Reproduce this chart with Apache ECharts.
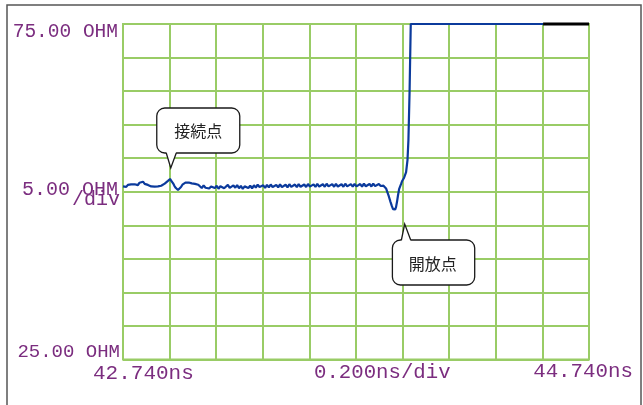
<!DOCTYPE html>
<html>
<head>
<meta charset="utf-8">
<script src="https://cdn.jsdelivr.net/npm/echarts@6/dist/echarts.min.js"></script>
<style>
  html, body { margin: 0; padding: 0; background: #ffffff; }
  #chart { width: 643px; height: 405px; }
</style>
</head>
<body>
<div id="chart"></div>
<script>
// TDR impedance trace: time window 42.740 ns .. 44.740 ns, 25 .. 75 ohm
const START_NS = 42.740;
const END_NS = 44.740;
const NS_PER_DIV = 0.2;
const OHM_MIN = 25;
const OHM_MAX = 75;
const OHM_PER_DIV = 5;

// sample times (ns)
const timeNs = [
  42.740, 42.747, 42.754, 42.761, 42.768, 42.775, 42.783, 42.790, 42.797, 42.804,
  42.811, 42.818, 42.826, 42.833, 42.840, 42.847, 42.854, 42.861, 42.869, 42.876,
  42.883, 42.890, 42.897, 42.904, 42.912, 42.919, 42.926, 42.933, 42.942, 42.948,
  42.955, 42.961, 42.967, 42.972, 42.976, 42.982, 42.989, 42.995, 43.002, 43.008,
  43.015, 43.022, 43.028, 43.035, 43.042, 43.049, 43.056, 43.063, 43.070,
  43.078, 43.086, 43.094, 43.102, 43.110, 43.118, 43.126, 43.134, 43.142, 43.150,
  43.158, 43.166, 43.174, 43.182, 43.190, 43.198, 43.206, 43.214, 43.222, 43.230,
  43.238, 43.246, 43.254, 43.262, 43.270, 43.278, 43.286, 43.294, 43.302, 43.310,
  43.318, 43.326, 43.334, 43.342, 43.350, 43.358, 43.366, 43.374, 43.382, 43.390,
  43.398, 43.406, 43.414, 43.422, 43.430, 43.438, 43.446, 43.454, 43.462, 43.470,
  43.478, 43.486, 43.494, 43.502, 43.510, 43.518, 43.526, 43.534, 43.542, 43.550,
  43.558, 43.566, 43.574, 43.582, 43.590, 43.598, 43.606, 43.614, 43.622, 43.630,
  43.638, 43.646, 43.654, 43.662, 43.670, 43.678, 43.686, 43.694, 43.702, 43.710,
  43.718, 43.726, 43.734, 43.742, 43.750, 43.758, 43.766, 43.774, 43.782, 43.790,
  43.798, 43.806, 43.814, 43.822, 43.830, 43.838, 43.846, 43.852,
  43.858, 43.864, 43.869, 43.875, 43.881, 43.888, 43.894, 43.899, 43.903, 43.908,
  43.912, 43.916, 43.920, 43.925, 43.929, 43.934, 43.938, 43.946, 43.955, 43.961,
  43.965, 43.970, 43.975, 44.543
];

// measured impedance (ohm)
const impedance = [
  50.80, 51.05, 50.72, 51.02, 50.78, 51.10, 50.82, 51.12, 51.20, 50.98,
  51.35, 51.22, 51.50, 51.18, 51.38, 51.02, 51.08, 50.80, 50.92, 50.76,
  50.98, 50.80, 51.08, 50.90, 51.18, 51.22, 51.50, 51.62, 51.90, 51.60,
  51.25, 50.85, 50.55, 50.35, 50.26, 50.45, 50.70, 51.05, 51.12, 51.35,
  51.22, 51.38, 51.10, 51.25, 51.02, 51.18, 50.95, 51.05, 50.80,
  50.55, 50.95, 50.60, 50.88, 50.48, 50.80, 51.00, 50.55, 50.90, 50.45,
  50.82, 50.98, 50.52, 50.78, 51.02, 50.58, 50.50, 50.94, 50.60, 50.98,
  50.52, 50.86, 50.44, 50.80, 51.00, 50.56, 50.90, 50.50, 50.96, 50.62,
  51.05, 50.70, 50.52, 50.96, 50.58, 51.02, 50.64, 51.08, 50.70, 50.56,
  51.00, 50.66, 51.10, 50.68, 50.60, 51.04, 50.66, 51.12, 50.72, 50.60,
  51.08, 50.68, 51.14, 50.74, 50.62, 51.08, 50.70, 51.16, 50.76, 50.64,
  51.10, 50.72, 51.18, 50.78, 50.66, 51.12, 50.74, 51.20, 50.80, 50.68,
  51.14, 50.74, 51.18, 50.78, 50.66, 51.12, 50.74, 51.20, 50.80, 50.68,
  51.14, 50.75, 51.18, 50.80, 50.70, 51.15, 50.76, 51.20, 50.82, 50.70,
  51.16, 50.78, 51.22, 50.84, 50.72, 51.16, 50.86, 51.10,
  50.90, 50.70, 50.50, 49.90, 49.30, 48.50, 47.85, 47.40, 47.18, 47.35,
  47.75, 48.50, 49.40, 50.40, 50.60, 51.20, 51.60, 52.05, 52.94, 54.73,
  57.70, 65.00, 75.00, 75.00
];

// over-range segment at the top of the screen
const overrangeTimeNs = [44.543, 44.740];
const overrangeOhm = [75.00, 75.00];

// scale annotations
const yScaleLabels = ['75.00 OHM', '5.00 OHM', '/div', '25.00 OHM'];
const xScaleLabels = ['42.740ns', '0.200ns/div', '44.740ns'];

// callouts: text and the trace point each one refers to
const calloutTexts = ['接続点', '開放点'];
const calloutTimeNs = [42.942, 43.946];
const calloutOhm = [51.90, 52.05];

const GRID_GREEN = '#99cc66';
const TRACE_BLUE = '#0b3a9c';
const LABEL_PURPLE = '#7b2d7f';
const MONO = '"Liberation Mono", "Courier New", monospace';
const CJK = '"Noto Sans CJK JP", "Noto Sans CJK SC", sans-serif';

const toXY = (ts, vs) => ts.map((t, i) => [+(t - START_NS).toFixed(4), vs[i]]);

const chart = echarts.init(document.getElementById('chart'), null, { renderer: 'canvas' });

const valueAxisCommon = {
  type: 'value',
  axisLine: { show: false },
  axisTick: { show: false },
  axisLabel: { show: false },
  splitLine: { show: true, lineStyle: { color: GRID_GREEN, width: 2 } }
};

chart.setOption({
  animation: false,
  backgroundColor: '#ffffff',
  grid: {
    left: 123, top: 24, right: 54, bottom: 45.5,
    show: true, borderColor: GRID_GREEN, borderWidth: 2, backgroundColor: 'transparent'
  },
  xAxis: Object.assign({}, valueAxisCommon, {
    min: 0, max: +(END_NS - START_NS).toFixed(3), interval: NS_PER_DIV
  }),
  yAxis: Object.assign({}, valueAxisCommon, {
    min: OHM_MIN, max: OHM_MAX, interval: OHM_PER_DIV
  }),
  series: [
    {
      type: 'line',
      data: toXY(timeNs, impedance),
      showSymbol: false,
      clip: false,
      lineStyle: { color: TRACE_BLUE, width: 2.2 },
      z: 3
    },
    {
      type: 'line',
      data: toXY(overrangeTimeNs, overrangeOhm),
      showSymbol: false,
      clip: false,
      lineStyle: { color: '#000000', width: 3 },
      z: 3
    }
  ]
});

const p0 = chart.convertToPixel({ gridIndex: 0 }, [+(calloutTimeNs[0] - START_NS).toFixed(4), calloutOhm[0]]);
const p1 = chart.convertToPixel({ gridIndex: 0 }, [+(calloutTimeNs[1] - START_NS).toFixed(4), calloutOhm[1]]);

const monoText = (x, y, text, size, align) => ({
  type: 'text', x: x, y: y, z: 50,
  style: {
    text: text, fill: LABEL_PURPLE, font: `${size}px ${MONO}`,
    textAlign: align, textVerticalAlign: 'middle'
  }
});

// speech bubble: rounded box plus a pointed tail whose tip sits at the group origin
function bubble(pt, dy, text, l, r, t, b, tail1, tail2, onTop, tx, ty) {
  const edge = onTop ? t : b;
  const inward = onTop ? 1.2 : -1.2;
  return {
    type: 'group', x: pt[0] + 0.7, y: pt[1] + dy,
    children: [
      {
        type: 'rect', z: 60,
        shape: { x: l, y: t, width: r - l, height: b - t, r: 8 },
        style: { fill: '#ffffff', stroke: '#1a1a1a', lineWidth: 1.3 }
      },
      {
        type: 'polygon', z: 61,
        shape: { points: [[tail1 + 0.6, edge + inward], [tail1, edge], [0, 0], [tail2, edge], [tail2 - 0.6, edge + inward]] },
        style: { fill: '#ffffff', stroke: null }
      },
      {
        type: 'polyline', z: 62,
        shape: { points: [[tail1, edge], [0, 0], [tail2, edge]] },
        style: { fill: null, stroke: '#1a1a1a', lineWidth: 1.3 }
      },
      {
        type: 'text', x: tx, y: ty, z: 63,
        style: { text: text, fill: '#222222', font: `16px ${CJK}`, textAlign: 'center', textVerticalAlign: 'middle' }
      }
    ]
  };
}

chart.setOption({
  graphic: [
    // instrument screen frame
    {
      type: 'rect', z: 40, silent: true,
      shape: { x: 7, y: 5, width: 634, height: 420 },
      style: { fill: null, stroke: '#555555', lineWidth: 1.5 }
    },
    monoText(118, 32, yScaleLabels[0], 19.5, 'right'),
    monoText(118, 190, yScaleLabels[1], 20, 'right'),
    monoText(120, 200, yScaleLabels[2], 20, 'right'),
    monoText(120, 352, yScaleLabels[3], 19, 'right'),
    monoText(93, 373, xScaleLabels[0], 21, 'left'),
    monoText(314, 373, xScaleLabels[1], 20.7, 'left'),
    monoText(633, 371, xScaleLabels[2], 20.8, 'right'),
    bubble(p0, -11, calloutTexts[0], -14, 69, -60, -15, -4.5, 5.5, false, 27.5, -37.5),
    bubble(p1, 46, calloutTexts[1], -12.3, 70, 16, 61, -3.3, 6, true, 28, 39.5)
  ]
});
</script>
</body>
</html>
